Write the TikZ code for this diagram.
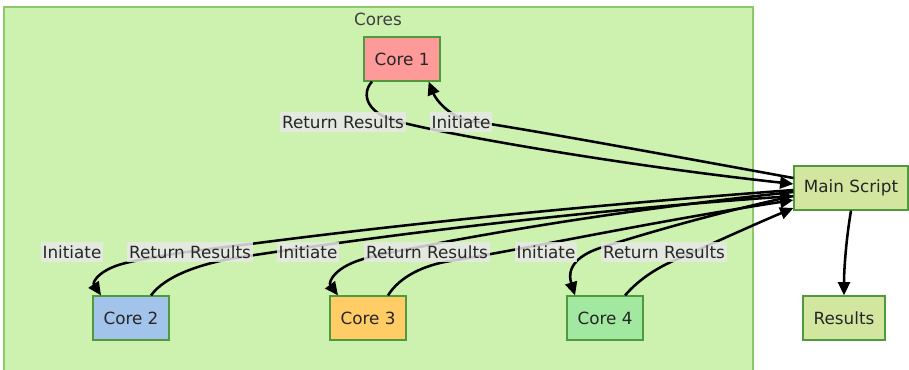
\documentclass[tikz,border=0pt]{standalone}
\usepackage{fontspec}
\setmainfont{DejaVu Sans}
\usetikzlibrary{arrows.meta}

\definecolor{grpfill}{HTML}{CDF1AF}
\definecolor{grpline}{HTML}{8CC96C}
\definecolor{boxline}{HTML}{4E9A3C}
\definecolor{redfill}{HTML}{FF9A9A}
\definecolor{bluefill}{HTML}{A2C3EA}
\definecolor{orangefill}{HTML}{FFCC66}
\definecolor{greenfill}{HTML}{A2E8A0}
\definecolor{mainfill}{HTML}{D3E6A0}
\definecolor{lblfill}{HTML}{E8E8E8}

\tikzset{
  corebox/.style={draw=boxline,line width=0.9pt,minimum width=57pt,minimum height=33pt,
    inner sep=0pt,text=black!85},
  flow/.style={line width=1.9pt,-{Triangle[length=10pt,width=9pt]}},
  lbl/.style={fill=lblfill,fill opacity=0.85,text opacity=1,inner xsep=1.5pt,inner ysep=2.5pt,
    text=black!85}
}

\begin{document}
\begin{tikzpicture}[x=0.75pt,y=-0.75pt,font=\fontsize{12.6pt}{15pt}\selectfont]
  \useasboundingbox (0,0) rectangle (909,369);
  \draw[grpline,fill=grpfill,line width=0.9pt] (4,7) rectangle (753,375);
  \node[text=black!75] (title) at (378,19) {Cores};

  \node[corebox,fill=redfill]    (core1) at (402,59)  {Core 1};
  \node[corebox,fill=bluefill]   (core2) at (131,318) {Core 2};
  \node[corebox,fill=orangefill] (core3) at (368,318) {Core 3};
  \node[corebox,fill=greenfill]  (core4) at (605,318) {Core 4};
  \node[corebox,fill=mainfill,minimum width=85.5pt] (main) at (851,188) {Main Script};
  \node[corebox,fill=mainfill,minimum width=61.5pt] (res) at (844,318) {Results};

  % core 1
  \draw[flow] ([yshift=7.5pt]main.west) .. controls (640,150) and (520,128) .. (470,121)
    .. controls (450,117) and (436,100) .. ([xshift=20pt]core1.south);
  \draw[flow] ([xshift=-22.5pt]core1.south) .. controls (360,95) and (368,115) .. (400,122)
    .. controls (450,135) and (620,165) .. ([yshift=3pt]main.west);
  % core 2
  \draw[flow] ([yshift=-1.5pt]main.west) .. controls (500,212) and (320,235) .. (250,244)
    .. controls (200,250) and (160,255) .. (130,262)
    .. controls (100,268) and (92,282) .. ([xshift=-22.5pt]core2.north);
  \draw[flow] ([xshift=15pt]core2.north) .. controls (165,276) and (200,264) .. (235,258)
    .. controls (300,248) and (520,215) .. ([yshift=-6pt]main.west);
  % core 3
  \draw[flow] ([yshift=-3pt]main.west) .. controls (620,210) and (500,232) .. (450,241)
    .. controls (420,247) and (390,252) .. (367,258)
    .. controls (335,266) and (328,282) .. ([xshift=-22.5pt]core3.north);
  \draw[flow] ([xshift=15pt]core3.north) .. controls (400,276) and (425,265) .. (450,261)
    .. controls (520,250) and (650,222) .. ([yshift=-9pt]main.west);
  % core 4
  \draw[flow] ([yshift=-6pt]main.west) .. controls (720,212) and (650,232) .. (603,247)
    .. controls (580,254) and (566,266) .. ([xshift=-22.5pt]core4.north);
  \draw[flow] ([xshift=15pt]core4.north) .. controls (640,278) and (660,266) .. (680,258)
    .. controls (720,240) and (760,222) .. ([yshift=-15pt]main.west);
  % results
  \draw[flow] (main.south) .. controls (846,240) and (844,270) .. (res.north);

  \node[lbl] (ret1)  at (343,122) {Return Results};
  \node[lbl] (init1) at (461,122) {Initiate};
  \node[lbl] (init2) at (72,252)  {Initiate};
  \node[lbl] (ret2)  at (190,252) {Return Results};
  \node[lbl] (init3) at (308,252) {Initiate};
  \node[lbl] (ret3)  at (427,252) {Return Results};
  \node[lbl] (init4) at (546,252) {Initiate};
  \node[lbl] (ret4)  at (664,252) {Return Results};
\end{tikzpicture}
\end{document}
